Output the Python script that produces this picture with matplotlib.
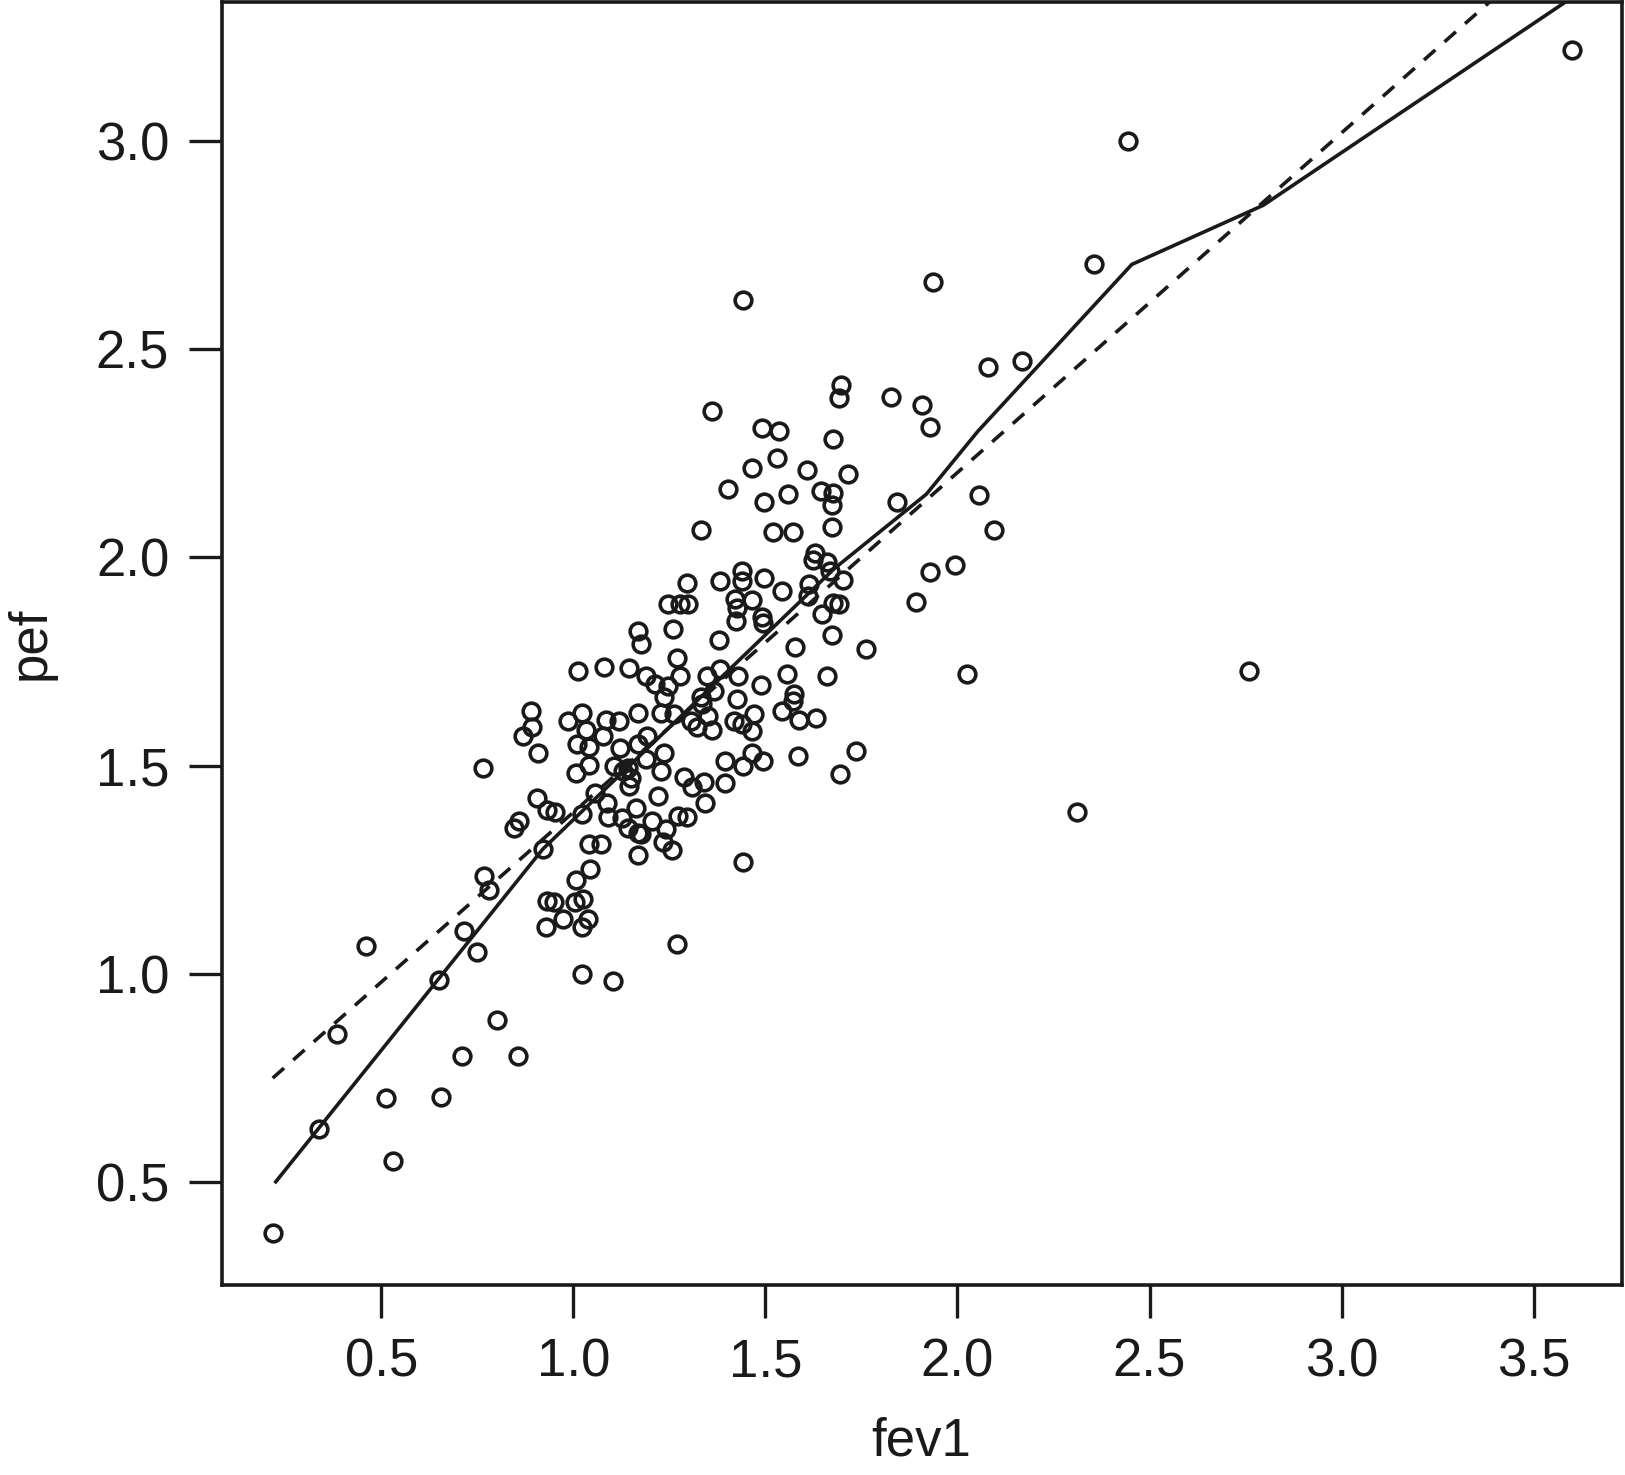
import numpy as np
import matplotlib
matplotlib.use('Agg')
import matplotlib.pyplot as plt

plt.rcParams['font.family'] = ['Liberation Sans', 'DejaVu Sans']

# fev1 / pef values
fev1 = [0.217, 0.338, 0.384, 0.460, 0.511, 0.530, 0.651, 0.656, 0.710, 0.715,
        0.750, 0.764, 0.766, 0.780, 0.801, 0.855, 0.845, 0.858, 0.869, 0.890,
        0.893, 0.909, 0.904, 0.920, 0.931, 0.952, 0.931, 0.950, 0.928, 0.974,
        0.985, 1.011, 1.022, 1.033, 1.009, 1.006, 1.006, 1.003, 1.025, 1.022,
        1.038, 1.022, 1.022, 1.041, 1.041, 1.041, 1.071, 1.044, 1.079, 1.076,
        1.084, 1.057, 1.087, 1.090, 1.103, 1.106, 1.119, 1.122, 1.127, 1.141,
        1.146, 1.143, 1.149, 1.146, 1.162, 1.168, 1.168, 1.168, 1.176, 1.168,
        1.168, 1.130, 1.192, 1.189, 1.213, 1.246, 1.235, 1.270, 1.278, 1.227,
        1.262, 1.235, 1.189, 1.227, 1.289, 1.310, 1.340, 1.219, 1.205, 1.273,
        1.297, 1.176, 1.240, 1.232, 1.256, 1.270, 1.246, 1.278, 1.299, 1.297,
        1.259, 1.332, 1.348, 1.383, 1.332, 1.367, 1.351, 1.305, 1.321, 1.361,
        1.334, 1.383, 1.378, 1.396, 1.396, 1.343, 1.361, 1.402, 1.429, 1.426,
        1.418, 1.439, 1.469, 1.466, 1.442, 1.466, 1.493, 1.488, 1.442, 1.439,
        1.439, 1.496, 1.421, 1.426, 1.423, 1.464, 1.491, 1.493, 1.442, 1.491,
        1.536, 1.531, 1.466, 1.496, 1.558, 1.520, 1.571, 1.544, 1.555, 1.544,
        1.574, 1.587, 1.631, 1.571, 1.585, 1.695, 1.577, 1.660, 1.674, 1.676,
        1.647, 1.614, 1.612, 1.628, 1.625, 1.660, 1.668, 1.674, 1.701, 1.692,
        1.762, 1.698, 1.692, 1.676, 1.609, 1.714, 1.644, 1.676, 1.674, 1.736,
        1.827, 1.908, 1.929, 1.935, 1.843, 1.892, 1.929, 1.994, 2.026, 2.056,
        2.080, 2.096, 2.169, 2.312, 2.355, 2.443, 2.758, 3.601]
pef = [0.376, 0.627, 0.856, 1.067, 0.701, 0.550, 0.985, 0.704, 0.803, 1.102,
       1.052, 1.495, 1.234, 1.201, 0.888, 0.803, 1.351, 1.368, 1.570, 1.632,
       1.592, 1.530, 1.423, 1.299, 1.393, 1.388, 1.174, 1.172, 1.112, 1.132,
       1.607, 1.726, 1.627, 1.585, 1.552, 1.483, 1.224, 1.172, 1.179, 1.112,
       1.132, 1.000, 1.383, 1.545, 1.502, 1.311, 1.311, 1.251, 1.736, 1.570,
       1.609, 1.435, 1.410, 1.376, 0.983, 1.498, 1.607, 1.542, 1.373, 1.351,
       1.734, 1.495, 1.470, 1.450, 1.398, 1.338, 1.286, 1.823, 1.791, 1.627,
       1.552, 1.488, 1.572, 1.714, 1.697, 1.692, 1.664, 1.759, 1.714, 1.627,
       1.624, 1.530, 1.515, 1.488, 1.473, 1.448, 1.460, 1.428, 1.366, 1.378,
       1.376, 1.336, 1.348, 1.316, 1.296, 1.072, 1.888, 1.888, 1.888, 1.938,
       1.828, 2.065, 1.714, 1.731, 1.664, 1.679, 1.619, 1.607, 1.592, 1.585,
       1.649, 1.943, 1.801, 1.512, 1.458, 1.410, 2.353, 2.164, 1.714, 1.659,
       1.607, 1.600, 1.624, 1.582, 1.500, 1.530, 1.510, 1.694, 1.269, 1.968,
       1.943, 1.950, 1.900, 1.878, 1.848, 1.898, 1.856, 1.843, 2.619, 2.311,
       2.303, 2.239, 2.216, 2.132, 2.152, 2.062, 2.062, 1.920, 1.719, 1.632,
       1.672, 1.609, 1.614, 1.654, 1.522, 1.480, 1.784, 1.714, 1.813, 1.891,
       1.863, 1.935, 1.908, 2.010, 1.995, 1.990, 1.968, 2.072, 1.945, 1.888,
       1.781, 2.415, 2.383, 2.284, 2.211, 2.201, 2.159, 2.154, 2.127, 1.535,
       2.386, 2.366, 2.313, 2.662, 2.134, 1.893, 1.965, 1.983, 1.721, 2.149,
       2.458, 2.065, 2.473, 1.388, 2.704, 3.000, 1.726, 3.219]

# smoother (solid)
smooth_x = [0.225, 0.920, 1.679, 1.919, 2.053, 2.454, 2.796, 3.600]
smooth_y = [0.500, 1.299, 1.973, 2.152, 2.303, 2.704, 2.846, 3.345]

# straight fit (dashed): intercept, slope
fit_a, fit_b = 0.572, 0.816

xticks = [0.5, 1.0, 1.5, 2.0, 2.5, 3.0, 3.5]
yticks = [0.5, 1.0, 1.5, 2.0, 2.5, 3.0]

ink = '#1a1a1a'

fig = plt.figure(figsize=(16.25, 14.75), dpi=100)
ax = fig.add_axes([0.1366, 0.1288, 0.8615, 0.870])

ax.plot(fev1, pef, linestyle='none', marker='o', markersize=12,
        markerfacecolor='none', markeredgecolor=ink, markeredgewidth=2.6)
ax.plot(smooth_x, smooth_y, color=ink, lw=2.6)
lx = np.array([min(fev1), max(fev1)])
ax.plot(lx, fit_a + fit_b * lx, color=ink, lw=2.6, dashes=(4.2, 3.4))

ax.set_xlim(0.085, 3.73)
ax.set_ylim(0.252, 3.335)
ax.set_xticks(xticks)
ax.set_yticks(yticks)
ax.set_xticklabels(['%.1f' % t for t in xticks])
ax.set_yticklabels(['%.1f' % t for t in yticks])
ax.tick_params(length=24, width=2.4, pad=14, labelsize=38, color=ink, labelcolor=ink)
for s in ax.spines.values():
    s.set_linewidth(2.6)
    s.set_color(ink)

fig.text(0.567, 1 - 1456 / 1475, 'fev1', ha='center', va='baseline', fontsize=38, color=ink)
fig.text(45 / 1625, 1 - 643 / 1475, 'pef', rotation=90, rotation_mode='anchor',
         ha='center', va='baseline', fontsize=38, color=ink)

fig.savefig('out.png', dpi=100)
